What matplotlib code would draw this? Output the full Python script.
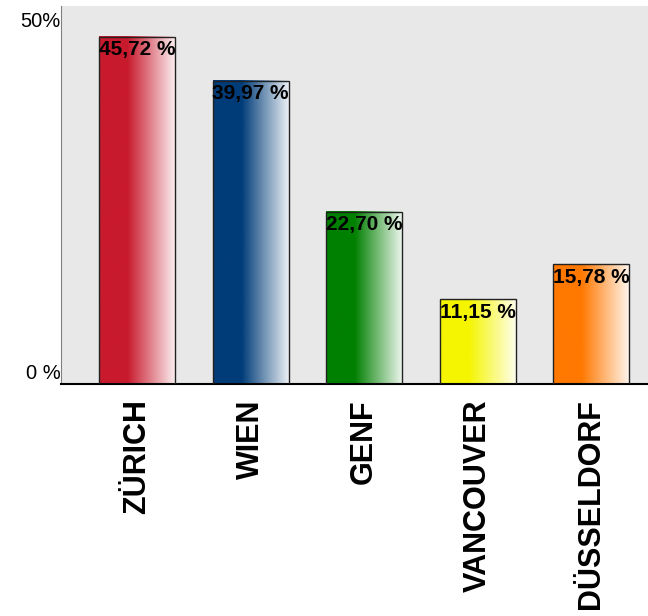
import numpy as np
import matplotlib
matplotlib.use("Agg")
import matplotlib.pyplot as plt
from matplotlib.colors import to_rgb

plt.rcParams['font.family'] = ['Liberation Sans', 'DejaVu Sans']

cities = ['ZÜRICH', 'WIEN', 'GENF', 'VANCOUVER', 'DÜSSELDORF']
values = [45.72, 39.97, 22.70, 11.15, 15.78]
labels = ['45,72 %', '39,97 %', '22,70 %', '11,15 %', '15,78 %']
colors = ['#C81A2D', '#003C78', '#008000', '#F5F500', '#FF7800']

fig = plt.figure(figsize=(6.48, 6.16), dpi=100)
ax = fig.add_axes([61 / 648, 1 - 384 / 616, 1 - 61 / 648, 378 / 616])
ax.set_facecolor('#E8E8E8')

width = 0.67
x = np.arange(len(cities))

# gradient: solid on the left, fading to almost white on the right
t = np.linspace(0, 1, 200)
fade = np.clip((t - 0.37) / 0.63, 0, 1) * 0.94

for i, (v, c) in enumerate(zip(values, colors)):
    rgb = np.array(to_rgb(c))
    img = rgb[None, :] * (1 - fade[:, None]) + fade[:, None]
    img = img[None, :, :]
    left = x[i] - width / 2
    ax.imshow(img, extent=[left, left + width, 0, v], aspect='auto',
              interpolation='bilinear', zorder=2)
    ax.bar(x[i], v, width, facecolor='none', edgecolor='#222222',
           linewidth=1, zorder=3)
    ax.text(x[i], v - 0.45, labels[i], ha='center', va='top',
            fontsize=15, fontweight='bold', color='black', zorder=4)

ax.set_xlim(-0.67, 4.5)
ax.set_ylim(0, 49.8)

ax.set_xticks(x)
ax.set_xticklabels(cities, rotation=90, fontsize=22, fontweight='bold',
                   va='top', ha='center')
ax.tick_params(axis='x', length=0, pad=11)

ax.set_yticks([])
ax.text(-0.001, 0.985, '50%', transform=ax.transAxes, ha='right', va='top',
        fontsize=14.5)
ax.text(-0.001, 0.003, '0 %', transform=ax.transAxes, ha='right',
        va='bottom', fontsize=14.5)

for s in ['top', 'right']:
    ax.spines[s].set_visible(False)
ax.spines['left'].set_color('#808080')
ax.spines['bottom'].set_color('black')
ax.spines['bottom'].set_linewidth(1.5)

fig.savefig('out.png', dpi=100)
